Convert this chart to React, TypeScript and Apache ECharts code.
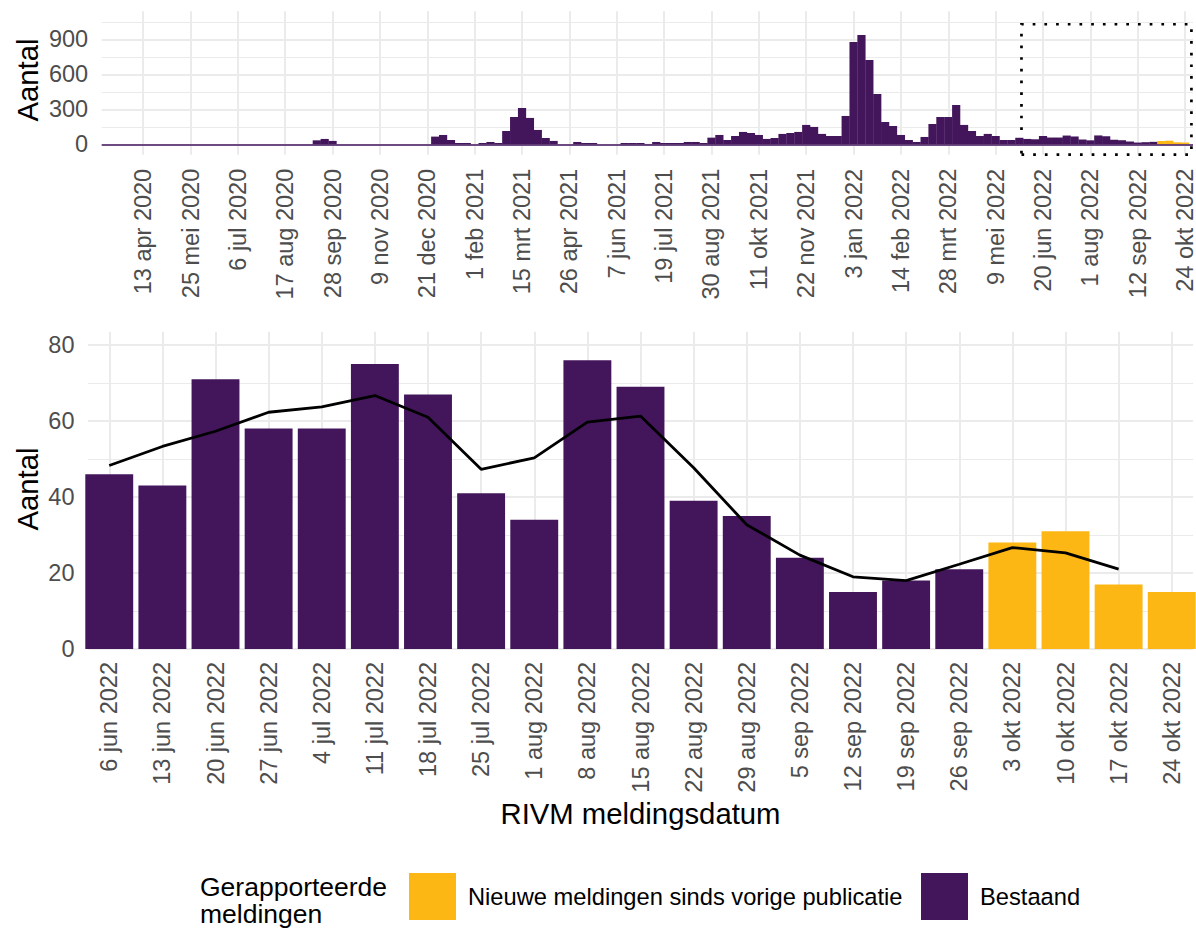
import { useEffect, useRef } from 'react';
import * as echarts from 'echarts';

const FONT = "'Liberation Sans', Arial, Helvetica, sans-serif";
const PURPLE = '#43165C';
const YELLOW = '#FDB714';
const GRID = '#EBEBEB';
const TICK_TEXT = '#4D4D4D';
const HIDDEN = 'rgba(0,0,0,0)';

// ---------- Overview (top) chart: weekly counts, week index relative to 13 apr 2020 ----------
const topFirstWeek = -5; // 9 mar 2020
const topTickLabels = [
  '13 apr 2020', '25 mei 2020', '6 jul 2020', '17 aug 2020', '28 sep 2020', '9 nov 2020',
  '21 dec 2020', '1 feb 2021', '15 mrt 2021', '26 apr 2021', '7 jun 2021', '19 jul 2021',
  '30 aug 2021', '11 okt 2021', '22 nov 2021', '3 jan 2022', '14 feb 2022', '28 mrt 2022',
  '9 mei 2022', '20 jun 2022', '1 aug 2022', '12 sep 2022', '24 okt 2022',
];
const topTickStep = 6; // weeks between tick labels
const topCounts = [
  // 9 mar 2020 .. 7 sep 2020
  0, 0, 0, 0, 0, 0, 0, 0, 0, 0, 0, 0, 0, 0, 0, 0, 0, 0, 0, 0, 0, 0, 0, 0, 0, 0, 0,
  // 14 sep 2020 .. 28 sep 2020
  34, 46, 29,
  // 5 okt 2020 .. 21 dec 2020
  0, 0, 0, 0, 0, 0, 0, 0, 0, 0, 0, 0,
  // 28 dec 2020 ..
  66, 80, 37, 11, 11, 0, 11, 20, 11, 114, 234, 311, 226, 123, 54, 29, 0, 0, 20, 11,
  11, 0, 0, 0, 11, 11, 11, 3, 20, 11, 11, 11, 20, 20, 11, 57, 80, 37, 71, 106,
  97, 80, 46, 54, 89, 97, 106, 166, 149, 89, 71, 71, 243, 877, 937, 723, 431, 191, 157, 80,
  37, 20, 63, 174, 234, 234, 337, 166, 114, 71, 89, 71, 37, 37, 56,
  // 6 jun 2022 .. 24 okt 2022
  46, 43, 71, 58, 58, 75, 67, 41, 34, 76, 69, 39, 35, 24, 15, 18, 21, 28, 31, 17, 15,
];
const topYTicks = [0, 300, 600, 900];
// zoom window drawn in the overview (weeks, counts)
const zoomWeekFrom = 111.27;
const zoomWeekTo = 132.8;
const zoomCountTop = 1029;
const zoomCountBottom = -88;

// ---------- Detail (bottom) chart ----------
const bottomDates = [
  '6 jun 2022', '13 jun 2022', '20 jun 2022', '27 jun 2022', '4 jul 2022', '11 jul 2022',
  '18 jul 2022', '25 jul 2022', '1 aug 2022', '8 aug 2022', '15 aug 2022', '22 aug 2022',
  '29 aug 2022', '5 sep 2022', '12 sep 2022', '19 sep 2022', '26 sep 2022', '3 okt 2022',
  '10 okt 2022', '17 okt 2022', '24 okt 2022',
];
const bottomCounts = [46, 43, 71, 58, 58, 75, 67, 41, 34, 76, 69, 39, 35, 24, 15, 18, 21, 28, 31, 17, 15];
const bottomStatus = [
  'Bestaand', 'Bestaand', 'Bestaand', 'Bestaand', 'Bestaand', 'Bestaand', 'Bestaand',
  'Bestaand', 'Bestaand', 'Bestaand', 'Bestaand', 'Bestaand', 'Bestaand', 'Bestaand',
  'Bestaand', 'Bestaand', 'Bestaand', 'Nieuw', 'Nieuw', 'Nieuw', 'Nieuw',
];
const bottomTrend = [48.3, 53.3, 57.3, 62.3, 63.7, 66.7, 61.0, 47.3, 50.3, 59.7, 61.3, 47.7, 32.7, 24.7, 19.0, 18.0, 22.3, 26.7, 25.3, 21.0];
const bottomYTicks = [0, 20, 40, 60, 80];

const legendTitle = ['Gerapporteerde', 'meldingen'];
const legendNew = 'Nieuwe meldingen sinds vorige publicatie';
const legendExisting = 'Bestaand';

function cycle(period: number, on: number, color: string) {
  return Array.from({ length: period }, (_, i) => (i === on ? color : HIDDEN));
}
const isInt = (v: number) => Math.abs(v - Math.round(v)) < 1e-6;

export default function App() {
  const ref = useRef<HTMLDivElement>(null);

  useEffect(() => {
    document.body.style.margin = '0';
    if (!ref.current) return;
    const chart = echarts.init(ref.current, undefined, { renderer: 'svg' });

    const nNew = bottomStatus.filter((s) => s === 'Nieuw').length;
    const topData = topCounts.map((v, i) => ({
      value: [topFirstWeek + i, v],
      itemStyle: { color: i >= topCounts.length - nNew ? YELLOW : PURPLE },
    }));
    const bottomData = bottomCounts.map((v, i) => ({
      value: [i, v],
      itemStyle: { color: bottomStatus[i] === 'Nieuw' ? YELLOW : PURPLE },
    }));

    const tickLabelStyle = { fontSize: 23.5, color: TICK_TEXT, fontFamily: FONT };
    const noLine = { show: false, onZero: false };

    const option: any = {
      animation: false,
      textStyle: { fontFamily: FONT },
      grid: [
        { left: 101.7, top: 11.3, width: 1091.3, height: 143.5, containLabel: false, outerBoundsMode: 'none' },
        { left: 88, top: 331.7, width: 1105, height: 317.3, containLabel: false, outerBoundsMode: 'none' },
      ],
      xAxis: [
        {
          gridIndex: 0, type: 'value', min: -5.25, max: 133, interval: 0.75,
          axisLine: noLine, axisTick: { show: false },
          splitLine: { show: true, showMaxLine: false, lineStyle: { color: cycle(8, 7, GRID), width: 2 } },
          axisLabel: {
            ...tickLabelStyle, rotate: 90, margin: 14, padding: [0, 0, 3, 0],
            formatter: (v: number) => {
              if (!isInt(v)) return '';
              const w = Math.round(v);
              if (w < 0 || w % topTickStep !== 0) return '';
              return topTickLabels[w / topTickStep] ?? '';
            },
          },
        },
        {
          gridIndex: 1, type: 'value', min: -0.4, max: 20.4, interval: 0.2,
          axisLine: noLine, axisTick: { show: false },
          splitLine: { show: true, showMaxLine: false, lineStyle: { color: cycle(5, 2, GRID), width: 2 } },
          axisLabel: {
            ...tickLabelStyle, rotate: 90, margin: 13,
            formatter: (v: number) => {
              if (!isInt(v)) return '';
              const n = Math.round(v);
              return bottomDates[n] ?? '';
            },
          },
        },
      ],
      yAxis: [
        {
          gridIndex: 0, type: 'value', min: -90, max: 1140, interval: 30,
          axisLine: noLine, axisTick: { show: false },
          splitLine: { show: true, lineStyle: { color: cycle(10, 3, GRID), width: 2 } },
          axisLabel: {
            ...tickLabelStyle, margin: 13.5,
            formatter: (v: number) => (topYTicks.some((t) => Math.abs(t - v) < 1e-6) ? String(Math.round(v)) : ''),
          },
        },
        {
          gridIndex: 0, type: 'value', min: -90, max: 1140, interval: 30, position: 'left',
          axisLine: noLine, axisTick: { show: false }, axisLabel: { show: false },
          splitLine: { show: true, showMaxLine: false, lineStyle: { color: cycle(10, 8, GRID), width: 1 } },
        },
        {
          gridIndex: 1, type: 'value', min: 0, max: 83.5, interval: 10,
          axisLine: noLine, axisTick: { show: false },
          splitLine: { show: true, lineStyle: { color: cycle(2, 0, GRID), width: 2 } },
          axisLabel: {
            ...tickLabelStyle, margin: 13.5,
            formatter: (v: number) => (bottomYTicks.some((t) => Math.abs(t - v) < 1e-6) ? String(Math.round(v)) : ''),
          },
        },
        {
          gridIndex: 1, type: 'value', min: 0, max: 83.5, interval: 10, position: 'left',
          axisLine: noLine, axisTick: { show: false }, axisLabel: { show: false },
          splitLine: { show: true, showMaxLine: false, lineStyle: { color: cycle(2, 1, GRID), width: 1 } },
        },
      ],
      series: [
        {
          type: 'bar', xAxisIndex: 0, yAxisIndex: 0, data: topData, barWidth: 8.2,
          markLine: {
            silent: true, symbol: ['none', 'none'], label: { show: false },
            lineStyle: { color: PURPLE, width: 1.6, type: 'solid' },
            data: [{ yAxis: 0 }],
          },
          markArea: {
            silent: true, label: { show: false },
            itemStyle: { color: HIDDEN, borderColor: '#000', borderWidth: 2.7, borderType: [2.7, 9] },
            data: [[{ coord: [zoomWeekFrom, zoomCountTop] }, { coord: [zoomWeekTo, zoomCountBottom] }]],
          },
        },
        { type: 'bar', xAxisIndex: 1, yAxisIndex: 2, data: bottomData, barWidth: 47.9 },
        {
          type: 'line', xAxisIndex: 1, yAxisIndex: 2, z: 5, symbol: 'none',
          lineStyle: { color: '#000', width: 2.8 },
          data: bottomTrend.map((v, i) => [i, v]),
        },
      ],
      graphic: [
        {
          type: 'text', x: 27, y: 80, rotation: Math.PI / 2,
          style: { text: 'Aantal', fontSize: 29.3, fontFamily: FONT, fill: '#000', align: 'center', verticalAlign: 'middle', textAlign: 'center', textVerticalAlign: 'middle' },
        },
        {
          type: 'text', x: 27, y: 489, rotation: Math.PI / 2,
          style: { text: 'Aantal', fontSize: 29.3, fontFamily: FONT, fill: '#000', align: 'center', verticalAlign: 'middle', textAlign: 'center', textVerticalAlign: 'middle' },
        },
        {
          type: 'text', x: 640.5, y: 813,
          style: { text: 'RIVM meldingsdatum', fontSize: 29.3, fontFamily: FONT, fill: '#000', align: 'center', verticalAlign: 'middle', textAlign: 'center', textVerticalAlign: 'middle' },
        },
        {
          type: 'text', x: 200, y: 887,
          style: { text: legendTitle[0], fontSize: 26.5, fontFamily: FONT, fill: '#000', align: 'left', verticalAlign: 'middle', textAlign: 'left', textVerticalAlign: 'middle' },
        },
        {
          type: 'text', x: 200, y: 914,
          style: { text: legendTitle[1], fontSize: 26.5, fontFamily: FONT, fill: '#000', align: 'left', verticalAlign: 'middle', textAlign: 'left', textVerticalAlign: 'middle' },
        },
        { type: 'rect', shape: { x: 409, y: 873, width: 47, height: 47 }, style: { fill: YELLOW } },
        {
          type: 'text', x: 468, y: 897,
          style: { text: legendNew, fontSize: 23.7, fontFamily: FONT, fill: '#000', align: 'left', verticalAlign: 'middle', textAlign: 'left', textVerticalAlign: 'middle' },
        },
        { type: 'rect', shape: { x: 921, y: 873, width: 47, height: 47 }, style: { fill: PURPLE } },
        {
          type: 'text', x: 980, y: 897,
          style: { text: legendExisting, fontSize: 23.7, fontFamily: FONT, fill: '#000', align: 'left', verticalAlign: 'middle', textAlign: 'left', textVerticalAlign: 'middle' },
        },
      ],
    };

    chart.setOption(option);
    return () => chart.dispose();
  }, []);

  return <div ref={ref} style={{ width: 1196, height: 928 }} />;
}
